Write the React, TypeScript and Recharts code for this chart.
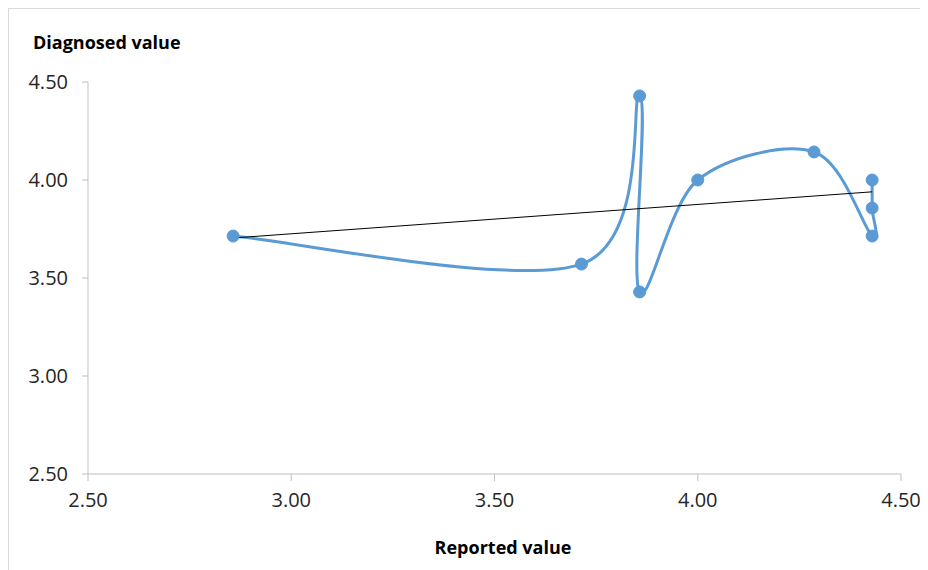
import { ComposedChart, Line, XAxis, YAxis } from 'recharts';

// Reported vs diagnosed values, in plotting order (Excel smoothed scatter)
const reported = [2.857, 3.714, 3.857, 3.857, 4.0, 4.286, 4.429, 4.429, 4.429];
const diagnosed = [3.714, 3.571, 4.429, 3.429, 4.0, 4.143, 3.714, 3.857, 4.0];
const axisTicks = [2.5, 3.0, 3.5, 4.0, 4.5];

const points = reported.map((x, i) => ({ x, y: diagnosed[i] }));

// linear trendline through the points
const n = reported.length;
const mx = reported.reduce((a, b) => a + b, 0) / n;
const my = diagnosed.reduce((a, b) => a + b, 0) / n;
let sxy = 0;
let sxx = 0;
reported.forEach((x, i) => {
  sxy += (x - mx) * (diagnosed[i] - my);
  sxx += (x - mx) * (x - mx);
});
const slope = sxy / sxx;
const xMin = Math.min(...reported);
const xMax = Math.max(...reported);
const trend = [
  { x: xMin, y: my + slope * (xMin - mx) },
  { x: xMax, y: my + slope * (xMax - mx) },
];

// Catmull-Rom style smoothing, close to Excel's "smoothed line"
const excelCurve = (context: any) => {
  let pts: number[][] = [];
  return {
    areaStart() {},
    areaEnd() {},
    lineStart() {
      pts = [];
    },
    point(x: number, y: number) {
      pts.push([+x, +y]);
    },
    lineEnd() {
      if (!pts.length) return;
      context.moveTo(pts[0][0], pts[0][1]);
      for (let i = 0; i < pts.length - 1; i++) {
        const p0 = pts[i - 1] || pts[i];
        const p1 = pts[i];
        const p2 = pts[i + 1];
        const p3 = pts[i + 2] || pts[i + 1];
        context.bezierCurveTo(
          p1[0] + (p2[0] - p0[0]) / 6,
          p1[1] + (p2[1] - p0[1]) / 6,
          p2[0] - (p3[0] - p1[0]) / 6,
          p2[1] - (p3[1] - p1[1]) / 6,
          p2[0],
          p2[1]
        );
      }
    },
  };
};

const font = '"Open Sans", sans-serif';
const fmt = (v: number) => v.toFixed(2);

export default function App() {
  return (
    <div
      style={{
        position: 'relative',
        width: 920,
        height: 562,
        borderTop: '1px solid #d9d9d9',
        borderLeft: '1px solid #d9d9d9',
        boxSizing: 'border-box',
        fontFamily: font,
      }}
    >
      <ComposedChart
        width={919}
        height={561}
        margin={{ top: 73, right: 27, bottom: 56, left: 19 }}
      >
        <XAxis
          dataKey="x"
          type="number"
          domain={[2.5, 4.5]}
          ticks={axisTicks}
          tickFormatter={fmt}
          allowDataOverflow
          height={40}
          stroke="#bfbfbf"
          tickSize={7}
          tickMargin={12}
          tick={{ fill: '#262626', fontSize: 20, fontFamily: font }}
        />
        <YAxis
          dataKey="y"
          type="number"
          domain={[2.5, 4.5]}
          ticks={axisTicks}
          tickFormatter={fmt}
          allowDataOverflow
          width={60}
          stroke="#bfbfbf"
          tickSize={6}
          tickMargin={14}
          tick={{ fill: '#262626', fontSize: 20, fontFamily: font }}
        />
        <Line
          data={points}
          dataKey="y"
          type={excelCurve as any}
          stroke="#5B9BD5"
          strokeWidth={3}
          dot={{ r: 6, fill: '#5B9BD5', stroke: '#5B9BD5', strokeWidth: 1 }}
          activeDot={false}
          isAnimationActive={false}
        />
        <Line
          data={trend}
          dataKey="y"
          type="linear"
          stroke="#000000"
          strokeWidth={1}
          dot={false}
          activeDot={false}
          isAnimationActive={false}
        />
      </ComposedChart>
      <svg
        width={920}
        height={562}
        style={{ position: 'absolute', left: -1, top: -1, pointerEvents: 'none' }}
      >
        <text x={25} y={41} fontSize={18} fontWeight="bold" fill="#000" fontFamily={font}>
          Diagnosed value
        </text>
        <text x={495} y={546} fontSize={18} fontWeight="bold" fill="#000" fontFamily={font} textAnchor="middle">
          Reported value
        </text>
      </svg>
    </div>
  );
}
